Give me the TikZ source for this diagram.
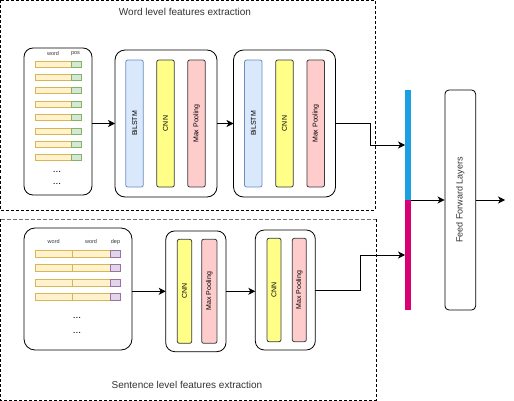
\documentclass[tikz,border=0pt]{standalone}
\usepackage{fontspec}
\setmainfont{Liberation Sans}
\usetikzlibrary{arrows.meta,calc}
\definecolor{wordfill}{HTML}{FFF2CC}
\definecolor{worddraw}{HTML}{D6B656}
\definecolor{posfill}{HTML}{D5E8D4}
\definecolor{posdraw}{HTML}{82B366}
\definecolor{depfill}{HTML}{E1D5E7}
\definecolor{depdraw}{HTML}{9673A6}
\definecolor{lstmfill}{HTML}{DAE8FC}
\definecolor{lstmdraw}{HTML}{6C8EBF}
\definecolor{cnnfill}{HTML}{FFFF88}
\definecolor{cnndraw}{HTML}{36393D}
\definecolor{mpfill}{HTML}{FFCCCC}
\definecolor{mpdraw}{HTML}{36393D}
\definecolor{vblue}{HTML}{1BA1E2}
\definecolor{vmag}{HTML}{D80073}
\definecolor{txt}{HTML}{333333}
\begin{document}
\begin{tikzpicture}[x=1pt,y=-1pt,
  frame/.style={draw=black, dashed, dash pattern=on 3pt off 2pt, line width=0.7pt},
  box/.style={draw=black, line width=0.8pt, fill=white, rounded corners=10pt, inner sep=0pt, outer sep=0pt},
  bar/.style={line width=0.8pt, rounded corners=2pt, inner sep=0pt, outer sep=0pt, rotate=90, font=\fontsize{7}{8}\selectfont},
  lstm/.style={bar, fill=lstmfill, draw=lstmdraw},
  cnn/.style={bar, fill=cnnfill, draw=cnndraw},
  mp/.style={bar, fill=mpfill, draw=mpdraw},
  cell/.style={line width=0.8pt, inner sep=0pt, outer sep=0pt, anchor=west},
  wordc/.style={cell, fill=wordfill, draw=worddraw},
  posc/.style={cell, fill=posfill, draw=posdraw},
  depc/.style={cell, fill=depfill, draw=depdraw},
  small/.style={font=\fontsize{5.5}{6}\selectfont, text=txt, inner sep=0pt},
  dots/.style={font=\fontsize{10}{11}\selectfont, inner sep=0pt},
  title/.style={font=\fontsize{10}{12}\selectfont, text=txt, inner sep=0pt},
  arr/.style={line width=0.8pt, -{Stealth[length=7pt,width=7pt,inset=2pt]}},
  vec/.style={inner sep=0pt, outer sep=0pt, minimum width=6pt, minimum height=110pt}
]
\useasboundingbox (0,0) rectangle (514,401);

% frames
\draw[frame] (0.5,0.5) rectangle (375,210);
\draw[frame] (376,219) -- (376,400) -- (0.5,400) -- (0.5,219);
\draw[frame, draw=black!55, dash pattern=on 4pt off 2pt] (0.5,219) -- (376,219);
\node[title] (wtitle) at (185,12) {Word level features extraction};
\node[title] (stitle) at (187,385) {Sentence level features extraction};

% ---------- word level ----------
\node[box, rounded corners=9pt, minimum width=68pt, minimum height=147pt, anchor=north west] (win) at (24,48) {};
\node[small] (wl1) at (53,54) {word};
\node[small] (wl2) at (75.5,54) {pos};
\foreach \i in {0,...,7} {
  \pgfmathsetmacro\yy{64+13.4*\i}
  \node[wordc, minimum width=36pt, minimum height=6pt] (tw\i) at (35,\yy) {};
  \node[posc, minimum width=10pt, minimum height=6pt] (tp\i) at (71,\yy) {};
}
\node[dots] (wd1) at (57,172.3) {...};
\node[dots] (wd2) at (57,184) {...};

\node[box, minimum width=102pt, minimum height=147pt] (b1) at (166,123.5) {};
\node[lstm, minimum width=127pt, minimum height=17.5pt] (b1a) at (134.5,123.5) {BiLSTM};
\node[cnn, minimum width=127pt, minimum height=17.5pt] (b1b) at (165.5,123.5) {CNN};
\node[mp, minimum width=127pt, minimum height=17.5pt] (b1c) at (196.5,123.5) {Max Pooling};

\node[box, minimum width=102pt, minimum height=147pt] (b2) at (284.5,123.5) {};
\node[lstm, minimum width=127pt, minimum height=17.5pt] (b2a) at (253.3,123.5) {BiLSTM};
\node[cnn, minimum width=127pt, minimum height=17.5pt] (b2b) at (284.5,123.5) {CNN};
\node[mp, minimum width=127pt, minimum height=17.5pt] (b2c) at (315.7,123.5) {Max Pooling};

% ---------- sentence level ----------
\node[box, rounded corners=11pt, minimum width=108pt, minimum height=122pt, anchor=north west] (sin) at (24,228) {};
\node[small] (sl1) at (53.7,241.7) {word};
\node[small] (sl2) at (91,241.7) {word};
\node[small] (sl3) at (115.5,241.7) {dep};
\foreach \i in {0,...,3} {
  \pgfmathsetmacro\yy{254+14.2*\i}
  \node[wordc, minimum width=37.3pt, minimum height=7pt] (sw\i) at (35,\yy) {};
  \node[wordc, minimum width=37.7pt, minimum height=7pt] (sv\i) at (72.3,\yy) {};
  \node[depc, minimum width=10.7pt, minimum height=7pt] (sd\i) at (110,\yy) {};
}
\node[dots] (sd1) at (77,317.7) {...};
\node[dots] (sd2) at (77,332.7) {...};

\node[box, rounded corners=9pt, minimum width=60.3pt, minimum height=120.7pt] (s1) at (195.85,291.3) {};
\node[cnn, minimum width=104pt, minimum height=14.4pt] (s1a) at (184.5,291.3) {CNN};
\node[mp, minimum width=104pt, minimum height=15.3pt] (s1b) at (209.3,291.3) {Max Pooling};

\node[box, rounded corners=9pt, minimum width=60pt, minimum height=120pt] (s2) at (285.3,290) {};
\node[cnn, minimum width=103.4pt, minimum height=14pt] (s2a) at (274,290) {CNN};
\node[mp, minimum width=103.4pt, minimum height=14pt] (s2b) at (299.3,290) {Max Pooling};

% ---------- concat + FFL ----------
\node[vec, fill=vblue] (vb) at (408,145) {};
\node[vec, fill=vmag] (vm) at (408,255) {};
\node[draw=black, line width=0.8pt, fill=white, rounded corners=4pt, inner sep=0pt, minimum width=30.7pt, minimum height=220pt] (ffl) at (460.3,200) {};
\node[rotate=90, font=\fontsize{9}{10}\selectfont, text=txt, inner sep=0pt] (ffltxt) at (ffl.center) {Feed Forward Layers};
\coordinate (out) at (505,200);

% ---------- connectors ----------
\draw[arr] (b1.west -| win.east) -- (b1.west);
\draw[arr] (b1.east) -- (b2.west);
\draw[arr] (b2.east) -| ($(b2.east)!.5!(vb.west)$) |- (vb.west);
\draw[arr] (s1.west -| sin.east) -- (s1.west);
\draw[arr] (s1.east) -- (s1.east -| s2.west);
\draw[arr] (s2.east) -| ($(s2.east)!.5!(vm.west)$) |- (vm.west);
\draw[arr] (vb.south east) -- (ffl.west);
\draw[arr] (ffl.east) -- (out);
\end{tikzpicture}
\end{document}
